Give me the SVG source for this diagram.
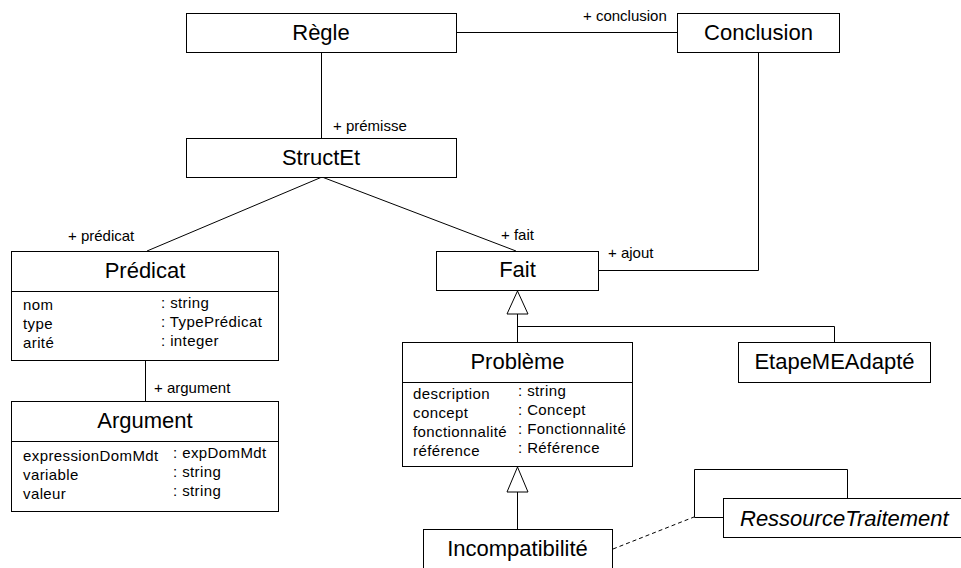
<svg xmlns="http://www.w3.org/2000/svg" width="961" height="568" viewBox="0 0 961 568">
<style>
  .box { fill: #fff; stroke: #000; stroke-width: 1; }
  .ln { fill: none; stroke: #000; stroke-width: 1; }
  .dash { fill: none; stroke: #000; stroke-width: 1; stroke-dasharray: 4 3; }
  .tri { fill: #fff; stroke: #000; stroke-width: 1; }
  .title { font-family: "Liberation Sans", Arial, sans-serif; font-size: 22px; text-anchor: middle; fill: #000; }
  .ital { font-style: italic; text-anchor: start; }
  .attr { font-family: "Liberation Sans", Arial, sans-serif; font-size: 15px; fill: #000; letter-spacing: 0.4px; }
  .role { font-family: "Liberation Sans", Arial, sans-serif; font-size: 15px; fill: #000; }
</style>
<rect x="0" y="0" width="961" height="568" fill="#fff"/>

<g id="connectors">
  <line class="ln" x1="457" y1="32.5" x2="677" y2="32.5"/>
  <line class="ln" x1="321.5" y1="52" x2="321.5" y2="138"/>
  <line class="ln" x1="322" y1="177" x2="147" y2="251"/>
  <line class="ln" x1="322" y1="177" x2="516" y2="251"/>
  <polyline class="ln" points="758.5,52 758.5,270.5 599,270.5"/>
  <line class="ln" x1="145.5" y1="360" x2="145.5" y2="401"/>
  <polyline class="ln" points="517.5,314 517.5,342"/>
  <polyline class="ln" points="517.5,326.5 834.5,326.5 834.5,342"/>
  <polygon class="tri" points="517.5,291 507,314 528,314"/>
  <line class="ln" x1="517.5" y1="492" x2="517.5" y2="529"/>
  <polygon class="tri" points="517.5,467 507,492 528,492"/>
  <polyline class="ln" points="723,517.5 694.5,517.5 694.5,469.5 847.5,469.5 847.5,498"/>
  <line class="dash" x1="613" y1="549" x2="694" y2="517"/>
  <text class="role" x="583" y="21">+ conclusion</text>
  <text class="role" x="333" y="131">+ prémisse</text>
  <text class="role" x="68" y="241">+ prédicat</text>
  <text class="role" x="501" y="240">+ fait</text>
  <text class="role" x="608" y="258">+ ajout</text>
  <text class="role" x="154" y="393">+ argument</text>
</g>

<g id="regle">
  <rect class="box" x="186.5" y="13.5" width="270" height="39"/>
  <text class="title" x="321" y="40">Règle</text>
</g>

<g id="conclusion">
  <rect class="box" x="677.5" y="13.5" width="162" height="39"/>
  <text class="title" x="758.5" y="40">Conclusion</text>
</g>

<g id="structet">
  <rect class="box" x="186.5" y="138.5" width="270" height="39"/>
  <text class="title" x="321" y="165">StructEt</text>
</g>

<g id="predicat">
  <rect class="box" x="11.5" y="251.5" width="267" height="109"/>
  <line class="ln" x1="11.5" y1="291.5" x2="278.5" y2="291.5"/>
  <text class="title" x="145" y="278">Prédicat</text>
  <text class="attr" x="23" y="310">nom</text>
  <text class="attr" x="23" y="329">type</text>
  <text class="attr" x="23" y="348">arité</text>
  <text class="attr" x="161" y="308">: string</text>
  <text class="attr" x="161" y="327">: TypePrédicat</text>
  <text class="attr" x="161" y="346">: integer</text>
</g>

<g id="argument">
  <rect class="box" x="11.5" y="401.5" width="267" height="110"/>
  <line class="ln" x1="11.5" y1="441.5" x2="278.5" y2="441.5"/>
  <text class="title" x="145" y="428">Argument</text>
  <text class="attr" x="23" y="461">expressionDomMdt</text>
  <text class="attr" x="23" y="480">variable</text>
  <text class="attr" x="23" y="499">valeur</text>
  <text class="attr" x="173" y="458">: expDomMdt</text>
  <text class="attr" x="173" y="477">: string</text>
  <text class="attr" x="173" y="496">: string</text>
</g>

<g id="fait">
  <rect class="box" x="436.5" y="251.5" width="162" height="39"/>
  <text class="title" x="517.5" y="277">Fait</text>
</g>

<g id="probleme">
  <rect class="box" x="402.5" y="342.5" width="230" height="124"/>
  <line class="ln" x1="402.5" y1="382.5" x2="632.5" y2="382.5"/>
  <text class="title" x="517.5" y="369">Problème</text>
  <text class="attr" x="413" y="399">description</text>
  <text class="attr" x="413" y="418">concept</text>
  <text class="attr" x="413" y="437">fonctionnalité</text>
  <text class="attr" x="413" y="456">référence</text>
  <text class="attr" x="518" y="396">: string</text>
  <text class="attr" x="518" y="415">: Concept</text>
  <text class="attr" x="518" y="434">: Fonctionnalité</text>
  <text class="attr" x="518" y="453">: Référence</text>
</g>

<g id="etapemeadapte">
  <rect class="box" x="738.5" y="342.5" width="192" height="40"/>
  <text class="title" x="834.5" y="369">EtapeMEAdapté</text>
</g>

<g id="incompatibilite">
  <rect class="box" x="423.5" y="529.5" width="189" height="45"/>
  <text class="title" x="517.5" y="556">Incompatibilité</text>
</g>

<g id="ressourcetraitement">
  <rect class="box" x="723.5" y="498.5" width="250" height="39"/>
  <text class="title ital" x="740" y="526">RessourceTraitement</text>
</g>
</svg>
